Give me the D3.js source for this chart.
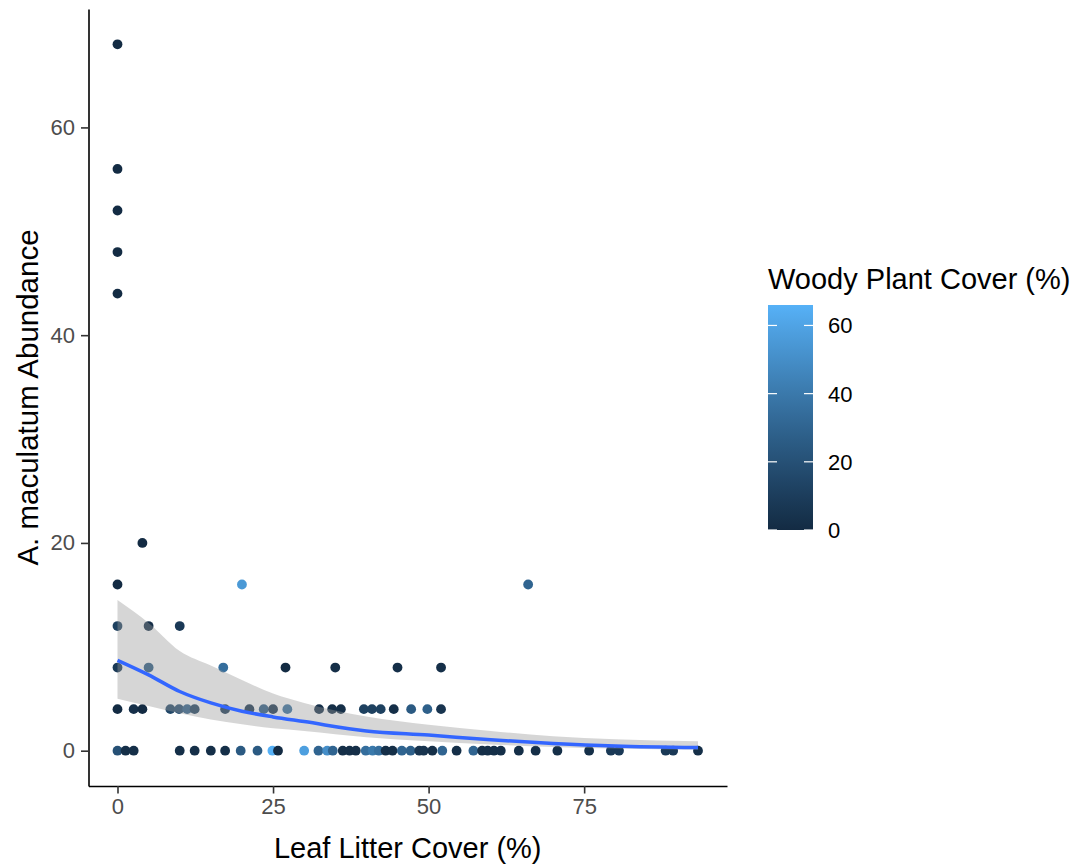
<!DOCTYPE html>
<html>
<head>
<meta charset="utf-8">
<script src="https://cdn.jsdelivr.net/npm/d3@7"></script>
<style>
    body { margin: 0; background: white; }
    svg { display: block; }
</style>
</head>
<body>
<div id="chart"></div>
<script>

// leaf litter cover (%), abundance, woody plant cover (%) - one entry per site
var aLitter = [
    0, 0, 0, 0, 0,
    4,
    0, 20, 66,
    0, 5, 10,
    0, 5, 17, 27, 35, 45, 52,
    0, 2.6, 4, 8.5, 9.9, 11.2, 12.4, 17.3, 21.2, 23.5, 25, 27.3, 32.4, 34.5, 35.9, 39.6, 40.9, 42.3, 44.4, 47.2, 49.8, 52,
    0, 1.3, 2.6, 10, 12.4, 15, 17.3, 19.8, 22.5, 24.9, 25.8, 30, 32.3, 33.7, 34.6, 36.2, 37.3, 38.3, 39.9, 41, 42,
    43.1, 44.2, 45.7, 47.1, 48.5, 49.2, 50.6, 52.2, 54.5, 57.2, 58.6, 59.5, 60.5, 61.6, 64.5, 67.2, 70.7, 75.8,
    79.3, 80.6, 88.1, 89.3, 93.3
];
var aAbundance = [
    68, 56, 52, 48, 44,
    20,
    16, 16, 16,
    12, 12, 12,
    8, 8, 8, 8, 8, 8, 8,
    4, 4, 4, 4, 4, 4, 4, 4, 4, 4, 4, 4, 4, 4, 4, 4, 4, 4, 4, 4, 4, 4,
    0, 0, 0, 0, 0, 0, 0, 0, 0, 0, 0, 0, 0, 0, 0, 0, 0, 0, 0, 0, 0,
    0, 0, 0, 0, 0, 0, 0, 0, 0, 0, 0, 0, 0, 0, 0, 0, 0, 0,
    0, 0, 0, 0, 0
];
var aWoody = [
    0, 0, 0, 0, 0,
    0,
    0, 55, 30,
    12, 2, 8,
    8, 25, 35, 0, 2, 2, 2,
    0, 3, 0, 15, 18, 28, 12, 8, 5, 25, 5, 35, 2, 2, 2, 12, 12, 12, 2, 25, 28, 5,
    20, 2, 2, 2, 2, 2, 2, 25, 25, 66, 0, 58, 30, 50, 30, 2, 2, 2, 35, 40, 35,
    2, 2, 30, 28, 5, 5, 2, 30, 2, 30, 2, 2, 2, 2, 2, 2, 2, 2,
    8, 8, 8, 8, 2
];

// smoother
var aSmoothX  = [0, 5, 10, 15, 20, 25, 30, 40, 50, 60, 70, 80, 93.3];
var aSmoothY  = [8.7, 7.3, 5.7, 4.6, 3.8, 3.25, 2.8, 1.9, 1.5, 1.05, 0.7, 0.45, 0.3];
var aSmoothLo = [5.0, 4.3, 3.6, 3.0, 2.55, 2.15, 1.9, 1.3, 0.9, 0.6, 0.35, 0.2, 0.08];
var aSmoothHi = [14.5, 12.3, 9.6, 8.2, 6.8, 5.5, 4.6, 3.3, 2.5, 1.9, 1.4, 1.1, 0.9];

var aXTicks = [0, 25, 50, 75];
var aYTicks = [0, 20, 40, 60];
var aLegendTicks = [0, 20, 40, 60];

var W = 1083, H = 867;
var font = "Liberation Sans, Arial, sans-serif";

var svg = d3.select("#chart")
    .append("svg")
    .attr("width", W)
    .attr("height", H);

var x = d3.scaleLinear().domain([-4.66, 97.96]).range([88.5, 727]);
var y = d3.scaleLinear().domain([-3.4, 71.4]).range([786, 9]);

var woodyMax = d3.max(aWoody);
var color = d3.scaleLinear()
    .domain([0, woodyMax])
    .range(["#132B43", "#56B1F7"])
    .interpolate(d3.interpolateLab);

var points = aLitter.map(function(d, i){
    return {x: d, y: aAbundance[i], w: aWoody[i]};
});

var smooth = aSmoothX.map(function(d, i){
    return {x: d, y: aSmoothY[i], lo: aSmoothLo[i], hi: aSmoothHi[i]};
});

// points first, ribbon drawn over them like ggplot does
svg.append("g")
    .selectAll("circle")
    .data(points)
    .enter()
    .append("circle")
    .attr("cx", function(d){ return x(d.x); })
    .attr("cy", function(d){ return y(d.y); })
    .attr("r", 4.9)
    .attr("fill", function(d){ return color(d.w); });

var area = d3.area()
    .x(function(d){ return x(d.x); })
    .y0(function(d){ return y(d.lo); })
    .y1(function(d){ return y(d.hi); })
    .curve(d3.curveMonotoneX);

svg.append("path")
    .datum(smooth)
    .attr("d", area)
    .attr("fill", "#999999")
    .attr("fill-opacity", 0.4);

var line = d3.line()
    .x(function(d){ return x(d.x); })
    .y(function(d){ return y(d.y); })
    .curve(d3.curveMonotoneX);

svg.append("path")
    .datum(smooth)
    .attr("d", line)
    .attr("fill", "none")
    .attr("stroke", "#3366FF")
    .attr("stroke-width", 3.5);

// axes
var xAxis = svg.append("g")
    .attr("transform", "translate(0," + 786 + ")")
    .call(d3.axisBottom(x).tickValues(aXTicks).tickSize(7.5).tickSizeOuter(0).tickPadding(5).tickFormat(d3.format("d")));

var yAxis = svg.append("g")
    .attr("transform", "translate(" + 88.5 + ",0)")
    .call(d3.axisLeft(y).tickValues(aYTicks).tickSize(7.5).tickSizeOuter(0).tickPadding(6).tickFormat(d3.format("d")));

[xAxis, yAxis].forEach(function(g){
    g.select(".domain").attr("stroke", "black").attr("stroke-width", 1.6);
    g.selectAll(".tick line").attr("stroke", "#333333").attr("stroke-width", 1.6);
    g.selectAll(".tick text")
        .attr("font-family", font)
        .attr("font-size", "22px")
        .attr("fill", "#4D4D4D");
});

// axis titles
svg.append("text")
    .text("Leaf Litter Cover (%)")
    .attr("x", (88.5 + 727) / 2)
    .attr("y", 858)
    .attr("text-anchor", "middle")
    .attr("font-family", font)
    .attr("font-size", "29px")
    .attr("fill", "black");

svg.append("text")
    .text("A. maculatum Abundance")
    .attr("transform", "translate(38," + ((9 + 786) / 2) + ") rotate(-90)")
    .attr("text-anchor", "middle")
    .attr("font-family", font)
    .attr("font-size", "29.5px")
    .attr("fill", "black");

// colour bar legend
var barX = 768, barW = 45, barTop = 305, barBottom = 530;
var legendY = d3.scaleLinear().domain([0, woodyMax]).range([barBottom, barTop]);

var grad = svg.append("defs")
    .append("linearGradient")
    .attr("id", "woodyGrad")
    .attr("x1", "0").attr("y1", "1")
    .attr("x2", "0").attr("y2", "0");

grad.selectAll("stop")
    .data(d3.range(0, 1.001, 0.1))
    .enter()
    .append("stop")
    .attr("offset", function(d){ return d; })
    .attr("stop-color", function(d){ return color(d * woodyMax); });

svg.append("rect")
    .attr("x", barX)
    .attr("y", barTop)
    .attr("width", barW)
    .attr("height", barBottom - barTop)
    .attr("fill", "url(#woodyGrad)");

var legendTicks = svg.append("g");
legendTicks.selectAll("line.left")
    .data(aLegendTicks)
    .enter()
    .append("line")
    .attr("x1", barX).attr("x2", barX + 9)
    .attr("y1", function(d){ return legendY(d); })
    .attr("y2", function(d){ return legendY(d); })
    .attr("stroke", "white")
    .attr("stroke-width", 1.2);
legendTicks.selectAll("line.right")
    .data(aLegendTicks)
    .enter()
    .append("line")
    .attr("x1", barX + barW - 9).attr("x2", barX + barW)
    .attr("y1", function(d){ return legendY(d); })
    .attr("y2", function(d){ return legendY(d); })
    .attr("stroke", "white")
    .attr("stroke-width", 1.2);

legendTicks.selectAll("text")
    .data(aLegendTicks)
    .enter()
    .append("text")
    .text(function(d){ return d; })
    .attr("x", barX + barW + 15)
    .attr("y", function(d){ return legendY(d); })
    .attr("dy", "0.36em")
    .attr("font-family", font)
    .attr("font-size", "22px")
    .attr("fill", "black");

svg.append("text")
    .text("Woody Plant Cover (%)")
    .attr("x", barX)
    .attr("y", 289)
    .attr("font-family", font)
    .attr("font-size", "29px")
    .attr("fill", "black");

</script>
</body>
</html>
